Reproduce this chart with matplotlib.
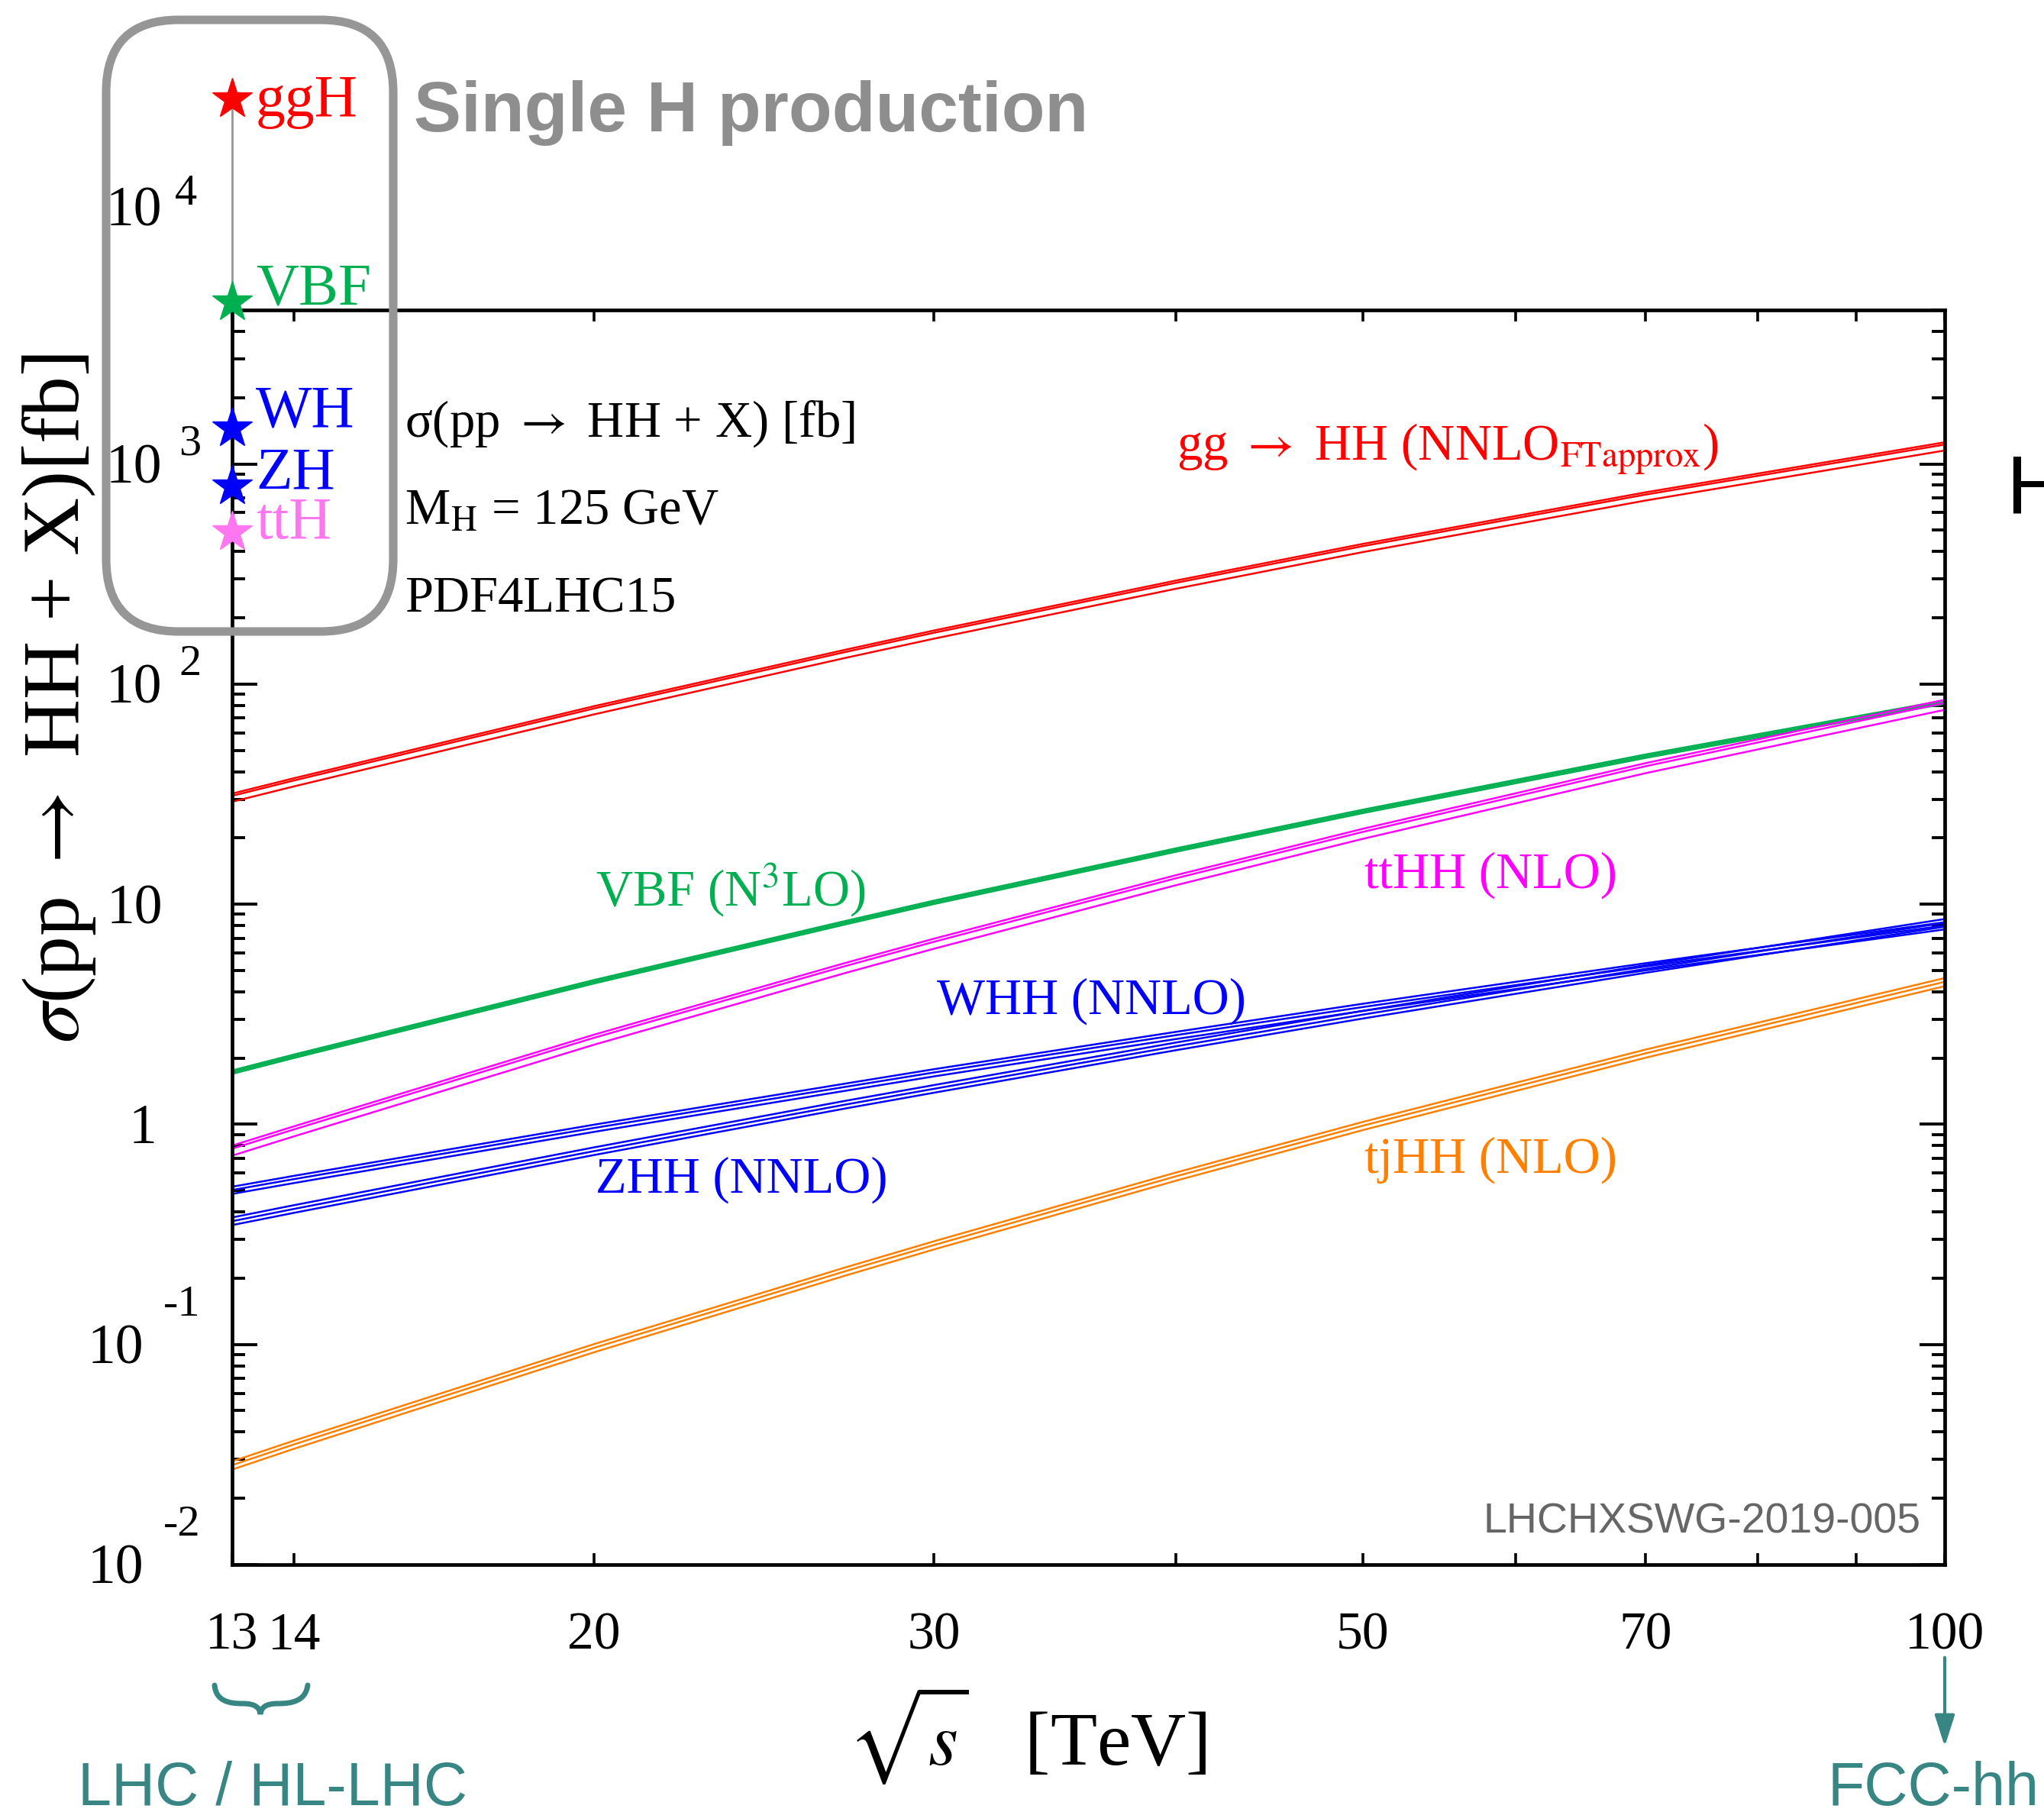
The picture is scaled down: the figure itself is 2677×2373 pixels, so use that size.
"""HH production cross sections versus proton-proton collider energy."""

import matplotlib

matplotlib.use("Agg")
import matplotlib.pyplot as plt
from matplotlib.patches import FancyArrowPatch, FancyBboxPatch, PathPatch
from matplotlib.path import Path
from matplotlib.ticker import FixedLocator, LogLocator, NullFormatter, NullLocator
from matplotlib.transforms import IdentityTransform

# centre-of-mass energy grid [TeV]
sqrt_s = [13, 14, 20, 27, 30, 40, 50, 70, 100]

# central HH cross sections [fb]
xs_gghh = [31.05, 36.5, 77.4, 139.9, 171.0, 288.0, 423.0, 725.0, 1224.0]
xs_vbf = [1.726, 2.04, 4.44, 8.245, 10.2, 17.6, 26.4, 47.0, 82.8]
xs_tthh = [0.775, 0.949, 2.47, 5.24, 6.75, 13.1, 21.3, 42.3, 82.1]
xs_whh = [0.503, 0.564, 0.962, 1.48, 1.72, 2.54, 3.41, 5.21, 8.00]
xs_zhh = [0.363, 0.413, 0.755, 1.23, 1.45, 2.26, 3.15, 5.08, 8.23]
xs_tjhh = [0.0283, 0.0352, 0.0964, 0.2154, 0.283, 0.580, 0.986, 2.10, 4.44]

# relative uncertainty band edges (up, down)
unc_gghh = (0.024, 0.060)
unc_vbf = (0.018, 0.018)
unc_tthh = (0.033, 0.070)
unc_whh = (0.035, 0.040)
unc_zhh = (0.040, 0.040)
unc_tjhh = (0.040, 0.045)

# single-H cross sections at 13 TeV [fb]
single_h_names = ["ggH", "VBF", "WH", "ZH", "ttH"]
single_h_xs = [45300, 5400, 1445, 791, 491]

RED = "#ff0000"
GREEN = "#00b050"
MAGENTA = "#ff00ff"
BLUE = "#0000ff"
ORANGE = "#ff8000"
PINK = "#ff77f0"
GREY = "#969696"
TEAL = "#388684"

W, H, DPI = 2677, 2373, 100
PX = IdentityTransform()

plt.rcParams["font.family"] = ["Liberation Serif", "DejaVu Serif"]
plt.rcParams["mathtext.fontset"] = "stix"


def put(fig, x, y, s, **kw):
    """Place text in pixel coordinates measured from the top-left corner."""
    return fig.text(x, H - y, s, transform=PX, **kw)


def draw_band(ax, values, unc, color):
    up, down = unc
    ax.plot(sqrt_s, values, color=color, lw=1.8)
    ax.plot(sqrt_s, [v * (1 + up) for v in values], color=color, lw=1.8)
    ax.plot(sqrt_s, [v * (1 - down) for v in values], color=color, lw=1.8)


def decade_label(ax, exp, x_ten, x_exp, raise_px, text_exp=None):
    kw = dict(xycoords=("figure pixels", "data"), textcoords="offset pixels",
              annotation_clip=False, va="baseline", color="black")
    y = 10.0 ** exp
    if text_exp is None:
        ax.annotate("1" if exp == 0 else "10", xy=(x_ten, y), xytext=(0, -25),
                    ha="right", fontsize=53, **kw)
        return
    ax.annotate("10", xy=(x_ten, y), xytext=(0, -25), ha="right", fontsize=53, **kw)
    ax.annotate(text_exp, xy=(x_exp, y), xytext=(0, raise_px - 19), ha="left",
                fontsize=42, **kw)


def main():
    fig = plt.figure(figsize=(W / DPI, H / DPI), dpi=DPI)
    ax = fig.add_axes([304 / W, 1 - 2049 / H, (2547 - 304) / W, (2049 - 406) / H])
    ax.set_xscale("log")
    ax.set_yscale("log")
    ax.set_xlim(13, 100)
    ax.set_ylim(0.01, 5000)

    draw_band(ax, xs_gghh, unc_gghh, RED)
    draw_band(ax, xs_vbf, unc_vbf, GREEN)
    draw_band(ax, xs_tthh, unc_tthh, MAGENTA)
    draw_band(ax, xs_whh, unc_whh, BLUE)
    draw_band(ax, xs_zhh, unc_zhh, BLUE)
    draw_band(ax, xs_tjhh, unc_tjhh, ORANGE)

    # x axis: ticks at every labelled energy plus 40, 60, 80, 90
    xticks = [13, 14, 20, 30, 40, 50, 60, 70, 80, 90, 100]
    xlabels = ["13", "14", "20", "30", "", "50", "", "70", "", "", "100"]
    ax.xaxis.set_major_locator(FixedLocator(xticks))
    ax.xaxis.set_minor_locator(NullLocator())
    ax.set_xticklabels(xlabels, fontsize=50)
    ax.yaxis.set_major_locator(LogLocator(base=10, numticks=20))
    ax.yaxis.set_minor_locator(LogLocator(base=10, subs=range(2, 10), numticks=20))
    ax.yaxis.set_major_formatter(NullFormatter())
    ax.yaxis.set_minor_formatter(NullFormatter())
    ax.tick_params(axis="x", which="major", direction="in", length=11, width=2.6,
                   top=True, pad=45)
    ax.tick_params(axis="y", which="major", direction="in", length=24, width=2.8,
                   right=True)
    ax.tick_params(axis="y", which="minor", direction="in", length=12, width=2.8,
                   right=True)
    for spine in ax.spines.values():
        spine.set_linewidth(3.4)

    # ROOT-style decade labels
    decade_label(ax, -2, 188, 214, 57, "-2")
    decade_label(ax, -1, 188, 214, 57, "-1")
    decade_label(ax, 0, 205, 0, 0)
    decade_label(ax, 1, 213, 0, 0)
    decade_label(ax, 2, 212, 234, 31, "2")
    decade_label(ax, 3, 212, 234, 31, "3")
    put(fig, 212, 296, "10", ha="right", va="baseline", fontsize=53)
    put(fig, 229, 268, "4", ha="left", va="baseline", fontsize=42)

    # single Higgs production at 13 TeV, stacked above the frame
    single_colors = [RED, GREEN, BLUE, BLUE, PINK]
    ax.plot([13, 13], [single_h_xs[0], 5000], color=GREY, lw=2.0, clip_on=False,
            zorder=4)
    for val, col in zip(single_h_xs, single_colors):
        ax.plot([13], [val], marker="*", ms=40, color=col, mec=col, clip_on=False,
                zorder=6)
    label_y = [152, 398, 558, 640, 705]
    for name, col, y in zip(single_h_names, single_colors, label_y):
        put(fig, 335, y, name, color=col, fontsize=56, va="baseline")

    box = FancyBboxPatch((139, H - 827), 376, 801,
                         boxstyle="round,pad=0,rounding_size=95",
                         transform=PX, fill=False, ec=GREY, lw=8, zorder=10)
    fig.add_artist(box)
    put(fig, 542, 172, "Single H production", color="#8e8e8e", fontsize=67,
        fontweight="bold", family="Liberation Sans", va="baseline")

    # process labels
    arrow = r"$\rightarrow$"
    put(fig, 1541, 602, "gg " + arrow + r" HH (NNLO$_{\mathrm{FTapprox}}$)",
        color=RED, fontsize=48, va="baseline")
    put(fig, 780, 1186, r"VBF (N$^{3}$LO)", color=GREEN, fontsize=48, va="baseline")
    put(fig, 1787, 1163, "ttHH (NLO)", color=MAGENTA, fontsize=48, va="baseline")
    put(fig, 1227, 1328, "WHH (NNLO)", color=BLUE, fontsize=48, va="baseline")
    put(fig, 780, 1562, "ZHH (NNLO)", color=BLUE, fontsize=48, va="baseline")
    put(fig, 1787, 1536, "tjHH (NLO)", color=ORANGE, fontsize=48, va="baseline")

    put(fig, 530, 572, "σ(pp " + arrow + " HH + X) [fb]", fontsize=48,
        va="baseline")
    put(fig, 530, 686, r"M$_{\mathrm{H}}$ = 125 GeV", fontsize=48, va="baseline")
    put(fig, 530, 801, "PDF4LHC15", fontsize=48, va="baseline")
    put(fig, 2516, 2008, "LHCHXSWG-2019-005", color="#666666", fontsize=40,
        family="Liberation Sans", ha="right", va="baseline")

    # axis titles
    put(fig, 77, 915, r"$\sigma$(pp " + arrow + " HH + X)[fb]", fontsize=76,
        rotation=90, ha="center", va="center")
    put(fig, 1345, 2272, r"$\sqrt{s}$   [TeV]", fontsize=72, ha="center",
        va="center")

    # collider annotations
    put(fig, 102, 2364, "LHC / HL-LHC", color=TEAL, fontsize=57,
        family="Liberation Sans", va="baseline")
    put(fig, 2393, 2364, "FCC-hh", color=TEAL, fontsize=57,
        family="Liberation Sans", va="baseline")
    fcc_arrow = FancyArrowPatch((2547, H - 2168), (2547, H - 2290), transform=PX,
                                arrowstyle="-|>,head_length=25,head_width=8",
                                mutation_scale=1, color=TEAL, lw=3)
    fig.add_artist(fcc_arrow)
    brace_pts = [(281, 2207), (283, 2228), (300, 2231), (318, 2231),
                 (334, 2231), (340, 2236), (341, 2245),
                 (342, 2236), (348, 2231), (364, 2231),
                 (382, 2231), (400, 2228), (403, 2207)]
    codes = [Path.MOVETO] + [Path.CURVE4] * 12
    brace = PathPatch(Path([(x, H - y) for x, y in brace_pts], codes),
                      transform=PX, fill=False, ec=TEAL, lw=5, capstyle="round")
    fig.add_artist(brace)

    # partial heading at the right edge
    put(fig, 2627, 672, "H", fontsize=78, family="Liberation Sans", va="baseline")

    fig.savefig("out.png", dpi=DPI)
    plt.close(fig)


if __name__ == "__main__":
    main()
